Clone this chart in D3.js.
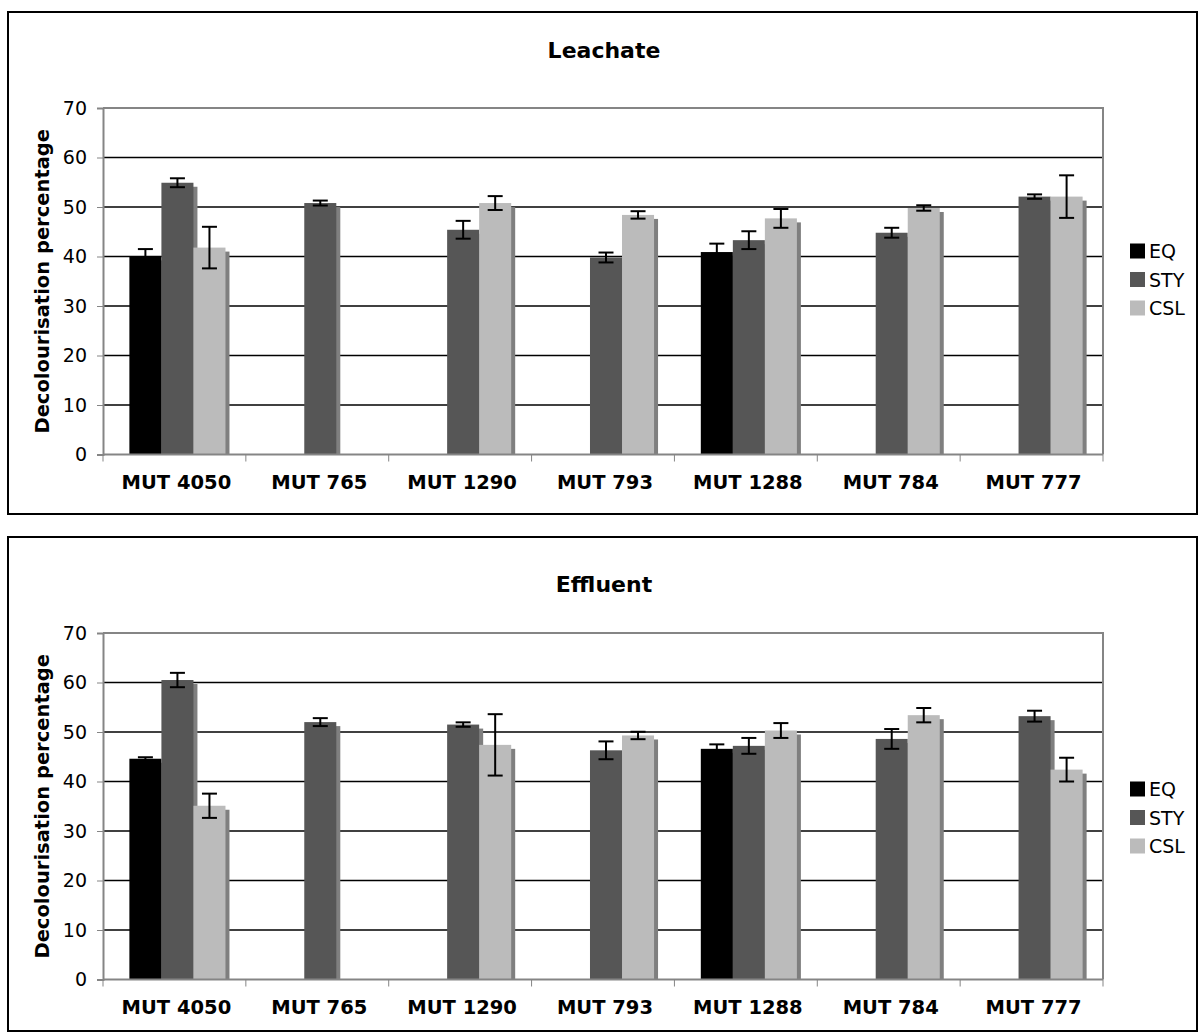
<!DOCTYPE html>
<html>
<head>
<meta charset="utf-8">
<script src="https://cdn.jsdelivr.net/npm/d3@7"></script>
<style>
  body { margin: 0; background: #fff; }
  svg { display: block; font-family: 'DejaVu Sans', Verdana, sans-serif; }
</style>
</head>
<body>
<svg id="chart" width="1203" height="1034"></svg>
<script>
var categories = ['MUT 4050', 'MUT 765', 'MUT 1290', 'MUT 793', 'MUT 1288', 'MUT 784', 'MUT 777'];
var seriesNames = ['EQ', 'STY', 'CSL'];
var seriesColors = ['#000000', '#565656', '#bbbbbb'];
var yTicks = [0, 10, 20, 30, 40, 50, 60, 70];

// Leachate values and error bars (null = not measured)
var leachateEQ = [40.0, null, null, null, 40.9, null, null];
var leachateSTY = [54.9, 50.8, 45.4, 39.8, 43.3, 44.8, 52.1];
var leachateCSL = [41.8, null, 50.8, 48.4, 47.7, 49.8, 52.1];
var leachateEQErr = [1.5, null, null, null, 1.7, null, null];
var leachateSTYErr = [0.9, 0.5, 1.8, 1.0, 1.8, 1.0, 0.45];
var leachateCSLErr = [4.2, null, 1.4, 0.75, 1.9, 0.55, 4.3];

// Effluent values and error bars
var effluentEQ = [44.6, null, null, null, 46.6, null, null];
var effluentSTY = [60.5, 52.0, 51.5, 46.3, 47.2, 48.6, 53.2];
var effluentCSL = [35.1, null, 47.4, 49.3, 50.3, 53.4, 42.4];
var effluentEQErr = [0.3, null, null, null, 0.9, null, null];
var effluentSTYErr = [1.45, 0.8, 0.45, 1.8, 1.6, 2.0, 1.1];
var effluentCSLErr = [2.45, null, 6.2, 0.75, 1.5, 1.45, 2.4];

var svg = d3.select('#chart');

drawPanel({
  top: 12, height: 502, title: 'Leachate', titleY: 46, legendY: 239,
  values: [leachateEQ, leachateSTY, leachateCSL],
  errors: [leachateEQErr, leachateSTYErr, leachateCSLErr]
});
drawPanel({
  top: 537, height: 494, title: 'Effluent', titleY: 54.5, legendY: 252,
  values: [effluentEQ, effluentSTY, effluentCSL],
  errors: [effluentEQErr, effluentSTYErr, effluentCSLErr]
});

function drawPanel({ top, height, title, titleY, legendY, values, errors }) {
  var g = svg.append('g').attr('transform', 'translate(0,' + top + ')');

  g.append('rect')
    .attr('x', 8).attr('y', 0)
    .attr('width', 1189).attr('height', height)
    .attr('fill', '#fff').attr('stroke', '#000').attr('stroke-width', 2);

  g.append('text')
    .attr('x', 604).attr('y', titleY)
    .attr('text-anchor', 'middle')
    .attr('font-size', 22).attr('font-weight', 'bold')
    .text(title);

  var plotTop = 96, plotBottom = plotTop + 346.5;
  var x = d3.scaleBand().domain(categories).range([103, 1103]);
  var inner = d3.scaleBand().domain(seriesNames)
    .range([0, x.bandwidth()]).paddingOuter(0.73).paddingInner(0);
  var y = d3.scaleLinear().domain([0, 70]).range([plotBottom, plotTop]);

  // horizontal gridlines
  g.append('g').selectAll('line').data(yTicks.filter(d => d > 0 && d < 70))
    .join('line')
    .attr('x1', 103).attr('x2', 1103)
    .attr('y1', d => y(d)).attr('y2', d => y(d))
    .attr('stroke', '#000').attr('stroke-width', 1.6);

  // plot frame (top & right) in grey
  g.append('path')
    .attr('d', 'M103,' + y(70) + 'H1103V' + y(0))
    .attr('fill', 'none').attr('stroke', '#858585').attr('stroke-width', 2);

  var bars = [];
  values.forEach(function(vals, si) {
    vals.forEach(function(v, ci) {
      if (v == null) return;
      bars.push({ cat: categories[ci], series: seriesNames[si], si: si, value: v, err: errors[si][ci] });
    });
  });

  var barX = d => x(d.cat) + inner(d.series) + 3;
  var bw = inner.bandwidth();

  // drop shadows
  g.append('g').selectAll('rect').data(bars).join('rect')
    .attr('x', d => barX(d) + 4).attr('y', d => y(d.value) + 4)
    .attr('width', bw).attr('height', d => y(0) - y(d.value) - 4)
    .attr('fill', '#7f7f7f');

  g.append('g').selectAll('rect').data(bars).join('rect')
    .attr('x', barX).attr('y', d => y(d.value))
    .attr('width', bw).attr('height', d => y(0) - y(d.value))
    .attr('fill', d => seriesColors[d.si]);

  // error bars
  var eg = g.append('g').attr('stroke', '#000').attr('stroke-width', 2);
  bars.filter(d => d.err != null).forEach(function(d) {
    var cx = barX(d) + bw / 2;
    var hi = y(d.value + d.err), lo = y(d.value - d.err);
    eg.append('line').attr('x1', cx).attr('x2', cx).attr('y1', hi).attr('y2', lo);
    eg.append('line').attr('x1', cx - 7.5).attr('x2', cx + 7.5).attr('y1', hi).attr('y2', hi);
    eg.append('line').attr('x1', cx - 7.5).attr('x2', cx + 7.5).attr('y1', lo).attr('y2', lo);
  });

  // y axis
  var yAxis = g.append('g').attr('transform', 'translate(103,0)')
    .call(d3.axisLeft(y).tickValues(yTicks).tickSize(6).tickPadding(10));
  yAxis.select('.domain').attr('stroke', '#858585').attr('stroke-width', 2);
  yAxis.selectAll('.tick line').attr('stroke', '#858585');
  yAxis.selectAll('.tick text').attr('font-size', 19).attr('fill', '#000')
    .attr('font-family', "'DejaVu Sans', Verdana, sans-serif");

  // x axis with ticks between categories
  var xAxis = g.append('g').attr('transform', 'translate(0,' + y(0) + ')');
  xAxis.append('line').attr('x1', 103).attr('x2', 1103)
    .attr('stroke', '#858585').attr('stroke-width', 2);
  xAxis.selectAll('.sep').data(categories.concat([null])).join('line')
    .attr('class', 'sep')
    .attr('x1', (d, i) => 103 + i * x.step()).attr('x2', (d, i) => 103 + i * x.step())
    .attr('y1', 0).attr('y2', 7)
    .attr('stroke', '#858585');
  xAxis.selectAll('text').data(categories).join('text')
    .attr('x', d => x(d) + x.bandwidth() / 2 + 2).attr('y', 34)
    .attr('text-anchor', 'middle')
    .attr('font-size', 19.5).attr('font-weight', 'bold')
    .text(d => d);

  // y axis label
  g.append('text')
    .attr('transform', 'translate(49,' + ((plotTop + plotBottom) / 2) + ') rotate(-90)')
    .attr('text-anchor', 'middle')
    .attr('font-size', 19.5).attr('font-weight', 'bold')
    .text('Decolourisation percentage');

  // legend
  var legend = g.append('g').attr('transform', 'translate(1130,' + legendY + ')');
  var items = legend.selectAll('g').data(seriesNames).join('g')
    .attr('transform', (d, i) => 'translate(0,' + i * 28.5 + ')');
  items.append('rect').attr('x', 0).attr('y', -7.5).attr('width', 15).attr('height', 15)
    .attr('fill', (d, i) => seriesColors[i]);
  items.append('text').attr('x', 19).attr('y', 7)
    .attr('font-size', 19).text(d => d);
}
</script>
</body>
</html>
